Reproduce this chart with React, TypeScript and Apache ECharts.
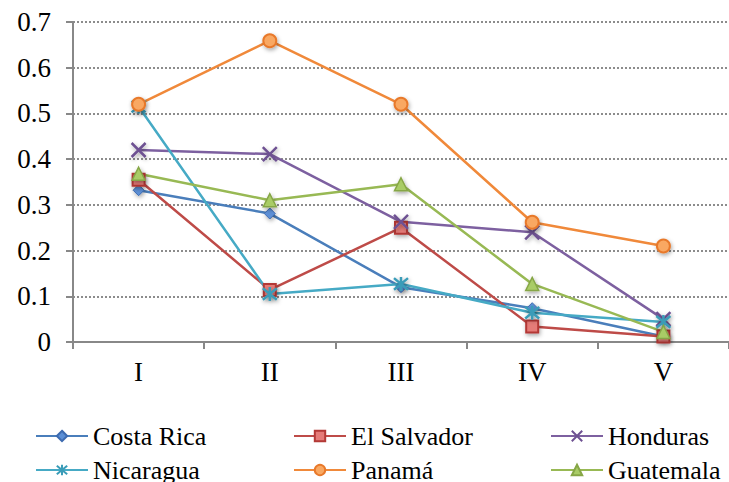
import React, { useEffect, useRef } from "react";
import * as echarts from "echarts";

const categories = ["I", "II", "III", "IV", "V"];
const costaRica = [0.332, 0.281, 0.12, 0.074, 0.012];
const elSalvador = [0.355, 0.114, 0.25, 0.034, 0.012];
const honduras = [0.42, 0.411, 0.263, 0.24, 0.05];
const nicaragua = [0.515, 0.105, 0.127, 0.064, 0.044];
const panama = [0.52, 0.659, 0.52, 0.262, 0.21];
const guatemala = [0.368, 0.31, 0.345, 0.127, 0.022];

const FONT = "Liberation Serif";

const shadow = {
  shadowBlur: 4,
  shadowColor: "rgba(0,0,0,0.35)",
  shadowOffsetX: 1,
  shadowOffsetY: 2,
};

const X_PATH = "path://M0 0 L10 10 M10 0 L0 10";
const STAR_PATH = "path://M0 0 L10 10 M10 0 L0 10 M5 -1 L5 11";

function mk(
  name: string,
  data: number[],
  line: string,
  symbol: string,
  size: number,
  fill: string,
  border: string,
  bw: number
) {
  return {
    name,
    type: "line",
    data,
    symbol,
    symbolSize: size,
    showAllSymbol: true,
    lineStyle: { color: line, width: 2.5 },
    itemStyle: { color: fill, borderColor: border, borderWidth: bw, ...shadow },
    emphasis: { disabled: true },
    z: 2,
  };
}

export default function App() {
  const ref = useRef<HTMLDivElement>(null);
  useEffect(() => {
    document.body.style.margin = "0";
    const chart = echarts.init(ref.current!, null, { renderer: "svg" });
    const legendBase = {
      orient: "vertical",
      top: 423,
      height: 150,
      padding: 0,
      itemGap: 8,
      itemWidth: 52,
      itemHeight: 13,
      textStyle: { fontFamily: FONT, fontSize: 26, color: "#000" },
      selectedMode: false,
    };
    chart.setOption({
      animation: false,
      backgroundColor: "#fff",
      textStyle: { fontFamily: FONT },
      grid: { left: 73, right: 0, top: 22, bottom: 140, containLabel: false },
      xAxis: {
        type: "category",
        data: categories,
        boundaryGap: true,
        axisLine: { lineStyle: { color: "#888", width: 2 } },
        axisTick: { show: true, length: 7, lineStyle: { color: "#888", width: 2 } },
        axisLabel: { fontFamily: FONT, fontSize: 27, color: "#000", margin: 16 },
        splitLine: { show: false },
      },
      yAxis: {
        type: "value",
        min: 0,
        max: 0.7,
        interval: 0.1,
        axisLine: { show: true, lineStyle: { color: "#888", width: 2 } },
        axisTick: { show: true, length: 7, lineStyle: { color: "#888", width: 2 } },
        axisLabel: { fontFamily: FONT, fontSize: 27, color: "#000", margin: 22 },
        splitLine: { show: true, lineStyle: { color: "#8c8c8c", width: 2, type: [2, 2] } },
      },
      legend: [
        { ...legendBase, left: 35, data: ["Costa Rica", "Nicaragua"] },
        { ...legendBase, left: 293, data: ["El Salvador", "Panamá"] },
        { ...legendBase, left: 550, data: ["Honduras", "Guatemala"] },
      ],
      series: [
        mk("Costa Rica", costaRica, "#4A7EBB", "diamond", 11, "#5B8FD6", "#3D6BB0", 1),
        mk("El Salvador", elSalvador, "#BE4B48", "rect", 12, "#E57B78", "#B33936", 2),
        mk("Honduras", honduras, "#7D60A0", X_PATH, 14, "#7D60A0", "#6E5192", 2.5),
        mk("Nicaragua", nicaragua, "#46AAC5", STAR_PATH, 14, "#46AAC5", "#3A9CB8", 2.5),
        mk("Panamá", panama, "#F0893A", "circle", 13, "#F9A862", "#E8792B", 2),
        mk("Guatemala", guatemala, "#98B954", "triangle", 13, "#A9CC66", "#86A646", 1.5),
      ],
    });
    return () => chart.dispose();
  }, []);
  return (
    <div
      ref={ref}
      style={{ position: "fixed", left: 0, top: 0, width: 729, height: 482 }}
    />
  );
}
